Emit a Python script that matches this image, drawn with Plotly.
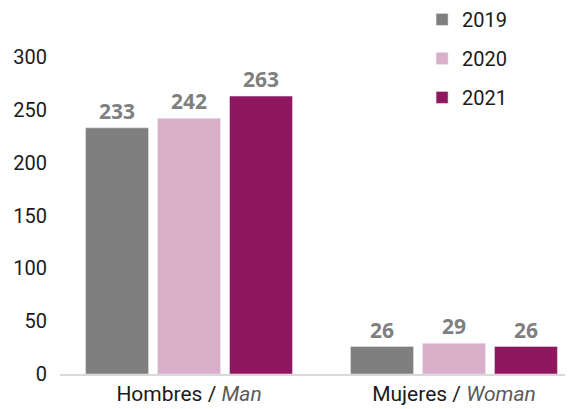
import plotly.graph_objects as go

categories = ["Hombres / <i><span style='color:#595959'>Man</span></i>",
              "Mujeres / <i><span style='color:#595959'>Woman</span></i>"]
years = ["2019", "2020", "2021"]
values_2019 = [233, 26]
values_2020 = [242, 29]
values_2021 = [263, 26]
colors = ["#7f7f7f", "#d9afca", "#90175f"]
y_ticks = [0, 50, 100, 150, 200, 250, 300]

fig = go.Figure()
for yr, vals, col in zip(years, [values_2019, values_2020, values_2021], colors):
    fig.add_trace(go.Bar(
        name=yr, x=categories, y=vals, marker_color=col,
        text=[str(v) for v in vals], textposition="outside",
        textfont=dict(family="Open Sans", size=21, color="#7f7f7f", weight="bold"),
        cliponaxis=False, legendgroup=yr,
    ))

fig.update_layout(
    width=569, height=409,
    margin=dict(l=60, r=4, t=57, b=35, autoexpand=False),
    plot_bgcolor="white", paper_bgcolor="white",
    barmode="group", bargap=0.185, bargroupgap=0.125,
    font=dict(family="Roboto", size=19, color="#1a1a1a"),
    showlegend=True,
    legend=dict(x=0.717, xanchor="left", y=1.18, yanchor="top",
                font=dict(family="Roboto", size=20, color="#1a1a1a"),
                tracegroupgap=10, bgcolor="rgba(0,0,0,0)"),
    xaxis=dict(type="category", range=[-0.487, 1.419], showline=True,
               linecolor="#d9d9d9", linewidth=2, ticks="", showgrid=False,
               tickfont=dict(family="Roboto", size=21, color="#1a1a1a")),
    yaxis=dict(range=[0, 300], tickvals=y_ticks, showgrid=False, zeroline=False,
               showline=False, ticks="", ticklabelstandoff=12,
               tickfont=dict(family="Roboto", size=20, color="#1a1a1a")),
)
fig.write_html("out.html", config={"displayModeBar": False},
               post_script="document.body.style.margin='0';")
